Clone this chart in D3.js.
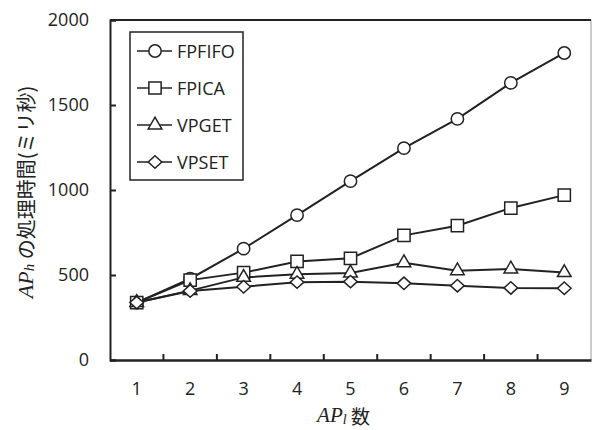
<!DOCTYPE html>
<html>
<head>
<meta charset="utf-8">
<script src="https://cdn.jsdelivr.net/npm/d3@7"></script>
<style>
  body { margin: 0; background: #fff; }
  text { font-family: "Open Sans", "Noto Sans", sans-serif; fill: #222; }
</style>
</head>
<body>
<div id="chart"></div>
<script>
// data
var categories = ["1", "2", "3", "4", "5", "6", "7", "8", "9"];
var seriesNames = ["FPFIFO", "FPICA", "VPGET", "VPSET"];
var fpfifo = [338, 478, 655, 852, 1052, 1246, 1418, 1630, 1806];
var fpica  = [338, 470, 514, 580, 598, 733, 790, 894, 970];
var vpget  = [338, 408, 486, 504, 512, 572, 525, 535, 514];
var vpset  = [338, 406, 431, 458, 461, 451, 437, 424, 422];
var yTicks = [0, 500, 1000, 1500, 2000];

var series = [fpfifo, fpica, vpget, vpset];

// wide diamond like the original marker
var wideDiamond = {
  draw: function(ctx, size) {
    var w = 6.8, h = 6.2;
    ctx.moveTo(0, -h); ctx.lineTo(w, 0); ctx.lineTo(0, h); ctx.lineTo(-w, 0); ctx.closePath();
  }
};
var symbols = [d3.symbolCircle, d3.symbolSquare, d3.symbolTriangle, wideDiamond];
var symSize = [120, 150, 80, 0];

var margin = {top: 20, right: 1, bottom: 70, left: 110},
    width = 592 - margin.left - margin.right,
    height = 430 - margin.top - margin.bottom;

var svg = d3.select("#chart")
  .append("svg")
    .attr("width", 592)
    .attr("height", 430)
  .append("g")
    .attr("transform", "translate(" + margin.left + "," + margin.top + ")");

var x = d3.scaleBand().domain(categories).range([0, width]);
var y = d3.scaleLinear().domain([0, 2000]).range([height, 0]);

// right border (thin gray)
svg.append("line")
  .attr("x1", width).attr("x2", width).attr("y1", 0).attr("y2", height)
  .style("stroke", "#999").style("stroke-width", 1);
// top border
svg.append("line")
  .attr("x1", 0).attr("x2", width).attr("y1", 0).attr("y2", 0)
  .style("stroke", "#222").style("stroke-width", 2);

// y axis
var yAxis = svg.append("g")
  .call(d3.axisLeft(y).tickValues(yTicks).tickFormat(d3.format("d")).tickSize(-6).tickPadding(21));
yAxis.select(".domain").style("stroke", "#222").style("stroke-width", 2);
yAxis.selectAll(".tick line").style("stroke", "#222").style("stroke-width", 2);
yAxis.selectAll(".tick text").style("font-size", "18px").style("font-family", "'Open Sans', sans-serif");

// x axis: ticks at the category boundaries, labels at centres
var xAxis = svg.append("g")
  .attr("transform", "translate(0," + height + ")")
  .call(d3.axisBottom(x).tickSize(0).tickPadding(22));
xAxis.select(".domain").style("stroke", "#222").style("stroke-width", 2.5);
xAxis.selectAll(".tick text").style("font-size", "18px").style("font-family", "'Open Sans', sans-serif");
svg.append("g").selectAll("line")
  .data(categories.slice(1))
  .enter().append("line")
    .attr("x1", function(d) { return x(d); })
    .attr("x2", function(d) { return x(d); })
    .attr("y1", height).attr("y2", height - 6)
    .style("stroke", "#222").style("stroke-width", 2);

// lines then markers
var line = d3.line()
  .x(function(d, i) { return x(categories[i]) + x.bandwidth() / 2; })
  .y(function(d) { return y(d); });

series.forEach(function(s) {
  svg.append("path")
    .datum(s)
    .attr("d", line)
    .style("fill", "none")
    .style("stroke", "#222")
    .style("stroke-width", 2);
});

series.forEach(function(s, k) {
  svg.append("g").selectAll("path")
    .data(s)
    .enter().append("path")
      .attr("transform", function(d, i) {
        return "translate(" + (x(categories[i]) + x.bandwidth() / 2) + "," + y(d) + ")";
      })
      .attr("d", d3.symbol().type(symbols[k]).size(symSize[k]))
      .style("fill", "#fff")
      .style("stroke", "#222")
      .style("stroke-width", 1.5);
});

// legend (hand made)
var lg = svg.append("g").attr("transform", "translate(20,12)");
lg.append("rect")
  .attr("x", 0).attr("y", 0).attr("width", 113).attr("height", 148)
  .style("fill", "#fff").style("stroke", "#222").style("stroke-width", 1.5);
seriesNames.forEach(function(name, k) {
  var cy = 19 + k * 37;
  lg.append("line")
    .attr("x1", 7).attr("x2", 42).attr("y1", cy).attr("y2", cy)
    .style("stroke", "#222").style("stroke-width", 1.5);
  lg.append("path")
    .attr("transform", "translate(25," + cy + ")")
    .attr("d", d3.symbol().type(symbols[k]).size(symSize[k]))
    .style("fill", "#fff").style("stroke", "#222").style("stroke-width", 1.5);
  lg.append("text")
    .attr("x", 47).attr("y", cy)
    .attr("dominant-baseline", "central")
    .style("font-size", "18px")
    .text(name);
});

// axis titles
var serif = "'Liberation Serif', 'DejaVu Serif', serif";
var yl = svg.append("text")
  .attr("transform", "translate(-85," + (height / 2 + 2) + ") rotate(-90)")
  .attr("text-anchor", "middle")
  .attr("dominant-baseline", "central")
  .style("font-size", "20px");
yl.append("tspan").text("AP").style("font-family", serif).style("font-style", "italic").style("font-size", "22px");
yl.append("tspan").text("h").attr("dy", 4).style("font-size", "15px")
  .style("font-family", serif).style("font-style", "italic");
yl.append("tspan").text(" の処理時間(ミリ秒)").attr("dy", -4)
  .style("font-family", "'Noto Sans CJK JP', sans-serif");

var xl = svg.append("text")
  .attr("x", width / 2 - 7).attr("y", height + 55)
  .attr("text-anchor", "middle")
  .attr("dominant-baseline", "central")
  .style("font-size", "19px");
xl.append("tspan").text("AP").style("font-family", serif).style("font-style", "italic").style("font-size", "21px");
xl.append("tspan").text("l").attr("dy", 4).style("font-size", "14px")
  .style("font-family", serif).style("font-style", "italic");
xl.append("tspan").text(" 数").attr("dy", -4)
  .style("font-family", "'Noto Sans CJK JP', sans-serif");
</script>
</body>
</html>
